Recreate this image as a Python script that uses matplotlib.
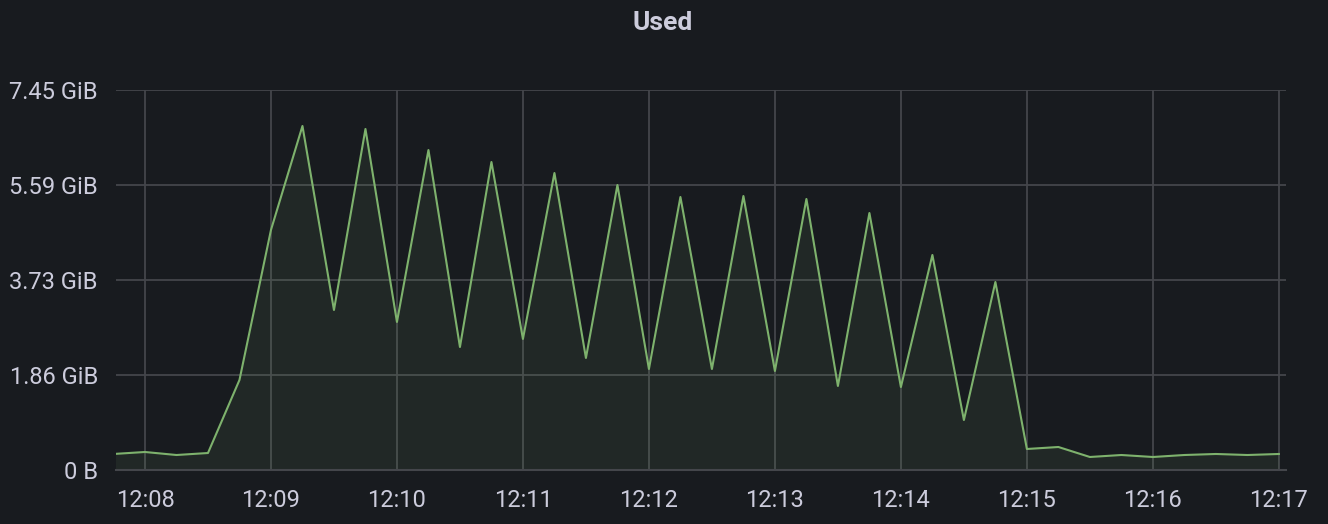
import pandas as pd
import matplotlib
matplotlib.use('Agg')
import matplotlib.pyplot as plt
import matplotlib.dates as mdates
from matplotlib.ticker import FixedLocator, FuncFormatter

BG_COLOR = '#181b1f'
TEXT_COLOR = '#ccccdc'
GRID_COLOR = '#44464b'
LINE_COLOR = '#7eb26d'

# memory used, sampled every 15 s from 12:07:45 (GiB)
start_time = '2024-01-01 12:07:45'
used_gib = [0.314, 0.353, 0.294, 0.333, 1.765, 4.706, 6.745, 3.137, 6.686, 2.902,
            6.274, 2.412, 6.039, 2.569, 5.823, 2.196, 5.588, 1.980, 5.353, 1.980,
            5.372, 1.941, 5.314, 1.647, 5.039, 1.627, 4.216, 0.980, 3.686, 0.412,
            0.451, 0.255, 0.294, 0.255, 0.294, 0.314, 0.294, 0.314]
tick_bytes = [0, 2e9, 4e9, 6e9, 8e9]

times = pd.date_range(start_time, periods=len(used_gib), freq='15s')
gib = 2 ** 30


def fmt_bytes(v, pos):
    if v == 0:
        return '0 B'
    return f'{v:.2f} GiB'


plt.rcParams['font.family'] = ['Roboto', 'DejaVu Sans']

fig = plt.figure(figsize=(13.28, 5.24), dpi=100)
fig.patch.set_facecolor(BG_COLOR)
ax = fig.add_axes([116 / 1328, 1 - 470 / 524, 1170 / 1328, 380 / 524])
ax.set_facecolor(BG_COLOR)

ax.plot(times, used_gib, color=LINE_COLOR, linewidth=1.5, zorder=3)
ax.fill_between(times, used_gib, 0, color=LINE_COLOR, alpha=0.09, linewidth=0, zorder=2)

ax.set_xlim(pd.Timestamp('2024-01-01 12:07:46.2'), pd.Timestamp('2024-01-01 12:17:03.4'))
ax.set_ylim(0, tick_bytes[-1] / gib)

ax.yaxis.set_major_locator(FixedLocator([b / gib for b in tick_bytes]))
ax.yaxis.set_major_formatter(FuncFormatter(fmt_bytes))
ax.xaxis.set_major_locator(mdates.MinuteLocator())
ax.xaxis.set_major_formatter(mdates.DateFormatter('%H:%M'))

ax.grid(True, color=GRID_COLOR, linewidth=1.3, zorder=1)
for side in ['top', 'right', 'left']:
    ax.spines[side].set_visible(False)
ax.spines['bottom'].set_color(GRID_COLOR)
ax.spines['bottom'].set_linewidth(1.5)

ax.tick_params(axis='y', length=0, pad=13, labelsize=17, colors=TEXT_COLOR)
ax.tick_params(axis='x', length=0, pad=14, labelsize=17, colors=TEXT_COLOR)

fig.text(663 / 1328, 1 - 23 / 524, 'Used', color=TEXT_COLOR, fontsize=19,
         fontweight='bold', ha='center', va='center')

plt.savefig('out.png', facecolor=BG_COLOR)
